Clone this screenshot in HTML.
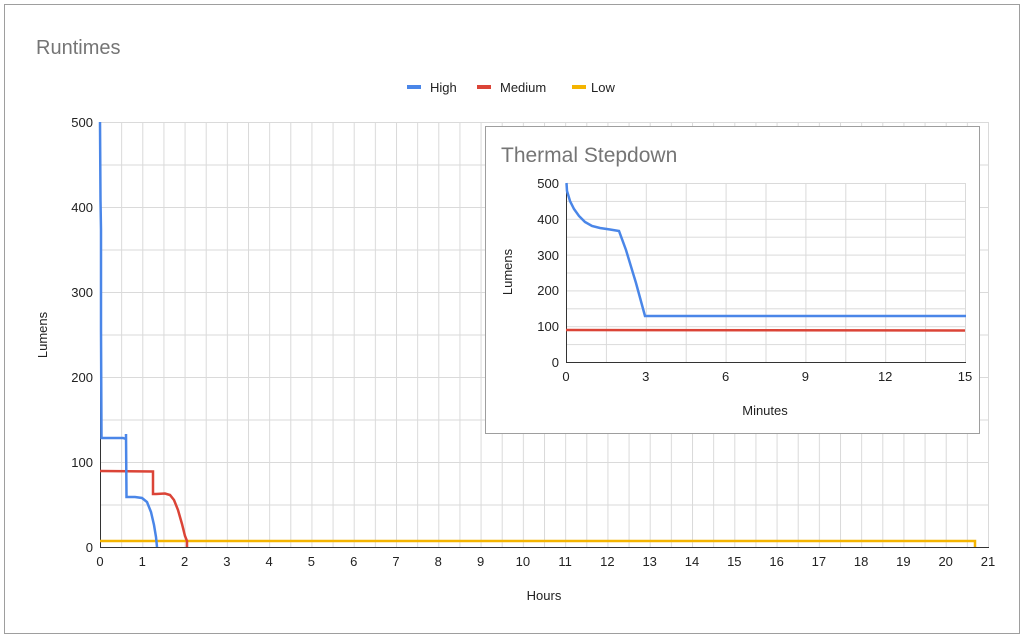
<!DOCTYPE html>
<html><head><meta charset="utf-8"><style>
html,body{margin:0;padding:0;background:#fff;}
svg{display:block;font-family:"Liberation Sans",Arial,sans-serif;}
</style></head><body>
<svg width="1024" height="638" viewBox="0 0 1024 638">
<defs>
<pattern id="gv" x="100" y="0" width="21.143" height="10" patternUnits="userSpaceOnUse"><line x1="0.5" y1="0" x2="0.5" y2="10" stroke="#dadada" stroke-width="1"/></pattern>
<pattern id="gh" x="0" y="122" width="10" height="42.5" patternUnits="userSpaceOnUse"><line x1="0" y1="0.5" x2="10" y2="0.5" stroke="#dadada" stroke-width="1"/></pattern>
<pattern id="iv" x="566" y="0" width="39.9" height="10" patternUnits="userSpaceOnUse"><line x1="0.5" y1="0" x2="0.5" y2="10" stroke="#dadada"/></pattern>
<pattern id="ih" x="0" y="183" width="10" height="17.9" patternUnits="userSpaceOnUse"><line x1="0" y1="0.5" x2="10" y2="0.5" stroke="#dadada"/></pattern>
</defs>
<rect x="4.5" y="4.5" width="1015" height="629" fill="#fff" stroke="#9e9e9e"/>
<text x="36" y="54" font-size="20" fill="#757575">Runtimes</text>
<line x1="407" y1="87" x2="421" y2="87" stroke="#4a86e8" stroke-width="4"/>
<text x="430" y="92" font-size="13" fill="#222">High</text>
<line x1="477" y1="87" x2="491" y2="87" stroke="#db4437" stroke-width="4"/>
<text x="500" y="92" font-size="13" fill="#222">Medium</text>
<line x1="572" y1="87" x2="586" y2="87" stroke="#f4b400" stroke-width="4"/>
<text x="591" y="92" font-size="13" fill="#222">Low</text>

<rect x="100" y="122" width="889" height="425" fill="url(#gv)"/>
<rect x="100" y="122" width="889" height="425" fill="url(#gh)"/>
<line x1="988.5" y1="122" x2="988.5" y2="547" stroke="#dadada"/>
<line x1="100" y1="547.5" x2="989" y2="547.5" stroke="#333"/>
<line x1="100.5" y1="122" x2="100.5" y2="547" stroke="#333"/>
<g font-size="13" fill="#222" text-anchor="end">
<text x="93" y="127">500</text><text x="93" y="212">400</text><text x="93" y="297">300</text>
<text x="93" y="382">200</text><text x="93" y="467">100</text><text x="93" y="552">0</text>
</g>
<g font-size="13" fill="#222" text-anchor="middle">
<text x="100" y="566">0</text><text x="142.3" y="566">1</text><text x="184.6" y="566">2</text><text x="226.9" y="566">3</text><text x="269.1" y="566">4</text><text x="311.4" y="566">5</text><text x="353.7" y="566">6</text><text x="396" y="566">7</text><text x="438.3" y="566">8</text><text x="480.6" y="566">9</text><text x="522.9" y="566">10</text><text x="565.1" y="566">11</text><text x="607.4" y="566">12</text><text x="649.7" y="566">13</text><text x="692" y="566">14</text><text x="734.3" y="566">15</text><text x="776.6" y="566">16</text><text x="818.9" y="566">17</text><text x="861.1" y="566">18</text><text x="903.4" y="566">19</text><text x="945.7" y="566">20</text><text x="988" y="566">21</text>
</g>
<text x="544" y="600" font-size="13" fill="#222" text-anchor="middle">Hours</text>
<text transform="translate(47,335) rotate(-90)" font-size="13" fill="#222" text-anchor="middle">Lumens</text>

<polyline fill="none" stroke="#f4b400" stroke-width="2.5" points="100,541 975,541 975,547"/>
<polyline fill="none" stroke="#db4437" stroke-width="2.5" points="100,471 153,471.5 153,494 156,494 165,493.5 170,495 174,500 178,510 182,524 185,536 187,541 187,547"/>
<polyline fill="none" stroke="#4a86e8" stroke-width="2.5" points="100,122 100.5,200 101,230 101,330 101.5,438 123,438 126,439 126,434 126.5,497 135,497 142,498 147,502 151,512 154,525 156,537 157,547"/>

<rect x="485.5" y="126.5" width="494" height="307" fill="#fff" stroke="#9e9e9e"/>
<text x="501" y="162" font-size="21" fill="#757575">Thermal Stepdown</text>
<rect x="566" y="183" width="400" height="179" fill="url(#iv)"/>
<rect x="566" y="183" width="400" height="179" fill="url(#ih)"/>
<line x1="965.5" y1="183" x2="965.5" y2="362" stroke="#dadada"/>
<line x1="566" y1="362.5" x2="966" y2="362.5" stroke="#333"/>
<line x1="566.5" y1="183" x2="566.5" y2="362" stroke="#333"/>
<g font-size="13" fill="#222" text-anchor="end">
<text x="559" y="188">500</text><text x="559" y="224">400</text><text x="559" y="260">300</text>
<text x="559" y="295">200</text><text x="559" y="331">100</text><text x="559" y="367">0</text>
</g>
<g font-size="13" fill="#222" text-anchor="middle">
<text x="566" y="381">0</text><text x="645.8" y="381">3</text><text x="725.6" y="381">6</text><text x="805.4" y="381">9</text><text x="885.2" y="381">12</text><text x="965" y="381">15</text>
</g>
<text x="765" y="415" font-size="13" fill="#222" text-anchor="middle">Minutes</text>
<text transform="translate(512,272) rotate(-90)" font-size="13" fill="#222" text-anchor="middle">Lumens</text>
<polyline fill="none" stroke="#db4437" stroke-width="2.5" points="566,330 965,330.5"/>
<polyline fill="none" stroke="#4a86e8" stroke-width="2.5" points="566.5,183 567,191 570,201 574,209 579,216 585,222 592,226 600,228 610,229.5 619,231 626,250 636,283 645,316 966,316"/>
</svg>
</body></html>
